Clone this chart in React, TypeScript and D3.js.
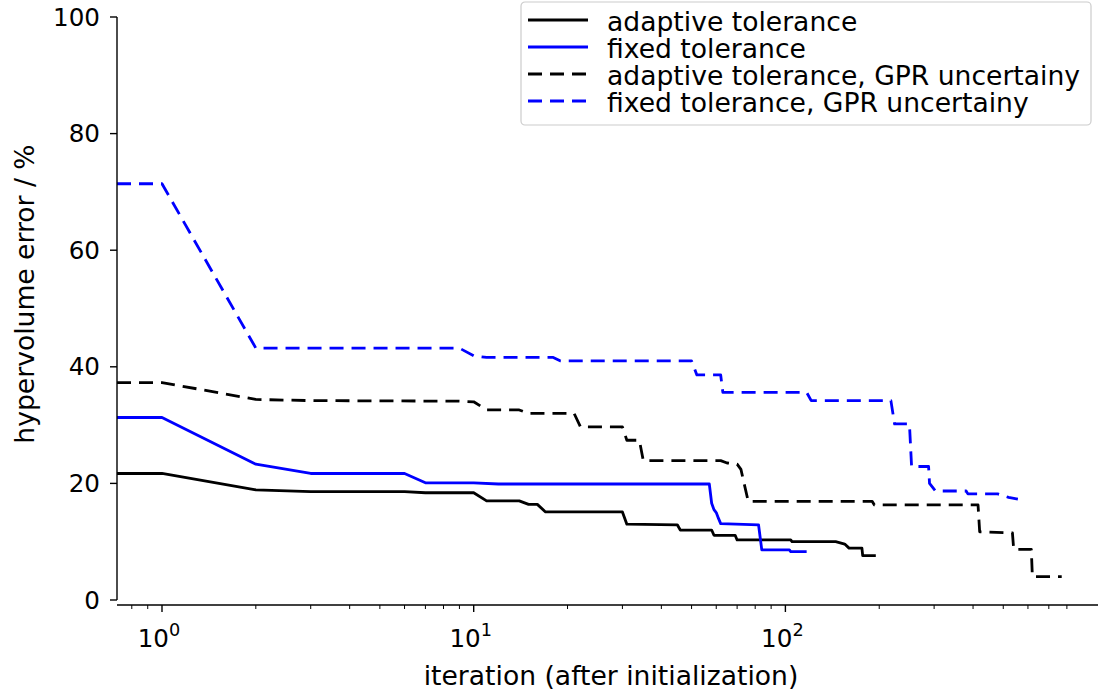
import React from 'react';
import * as d3 from 'd3';

const W = 1103;
const H = 695;

// adaptive tolerance (black solid)
const adaptiveIter = [0, 1, 2, 3, 6, 7, 10, 11, 14, 15, 16, 17, 30, 31, 45, 46, 58, 59, 69, 70, 104, 105, 145, 155, 160, 176, 177, 195];
const adaptiveVal = [21.7, 21.7, 18.9, 18.6, 18.6, 18.4, 18.4, 17.0, 17.0, 16.4, 16.4, 15.1, 15.1, 13.0, 12.9, 12.0, 12.0, 11.1, 11.1, 10.3, 10.3, 10.0, 10.0, 9.6, 8.9, 8.9, 7.6, 7.6];

// fixed tolerance (blue solid)
const fixedIter = [0, 1, 2, 3, 6, 7, 10, 12, 57, 58, 59, 60, 61, 62, 82, 84, 103, 104, 117];
const fixedVal = [31.3, 31.3, 23.3, 21.7, 21.7, 20.1, 20.1, 19.9, 19.9, 16.6, 15.5, 15.0, 14.0, 13.1, 12.9, 8.6, 8.6, 8.3, 8.3];

// adaptive tolerance, GPR uncertainy (black dashed)
const adaptiveGprIter = [0, 1, 2, 3, 9, 10, 11, 14, 15, 21, 22, 30, 31, 34, 35, 62, 65, 70, 72, 76, 190, 193, 415, 420, 535, 540, 615, 620, 770];
const adaptiveGprVal = [37.3, 37.3, 34.4, 34.2, 34.1, 34.0, 32.6, 32.6, 32.0, 32.0, 29.7, 29.7, 27.4, 27.4, 23.9, 23.9, 23.5, 23.3, 22.4, 16.9, 16.9, 16.3, 16.3, 11.7, 11.5, 8.7, 8.7, 4.0, 4.0];

// fixed tolerance, GPR uncertainy (blue dashed)
const fixedGprIter = [0, 1, 2, 9, 10, 11, 18, 19, 50, 52, 62, 63, 117, 121, 218, 224, 250, 254, 288, 290, 303, 380, 385, 480, 520, 557];
const fixedGprVal = [71.4, 71.4, 43.2, 43.2, 41.9, 41.6, 41.6, 41.0, 41.0, 38.6, 38.6, 35.6, 35.6, 34.2, 34.2, 30.2, 30.2, 22.9, 22.9, 20.0, 18.7, 18.7, 18.2, 18.2, 17.6, 17.3];

const seriesNames = [
  'adaptive tolerance',
  'fixed tolerance',
  'adaptive tolerance, GPR uncertainy',
  'fixed tolerance, GPR uncertainy',
];
const seriesColors = ['#000000', '#0000ff', '#000000', '#0000ff'];
const seriesDashed = [false, false, true, true];

const yTicks = [0, 20, 40, 60, 80, 100];
const xMajorTicks = [1, 10, 100];
const xMajorExp = ['0', '1', '2'];
const xMinorTicks = [0.8, 0.9, 2, 3, 4, 5, 6, 7, 8, 9, 20, 30, 40, 50, 60, 70, 80, 90, 200, 300, 400, 500, 600, 700, 800];

const FONT = 'DejaVu Sans, sans-serif';
const FS_TICK = 24.6;
const FS_LABEL = 26.6;

export default function App() {
  const left = 117;
  const right = 1098;
  const yTop = 17;
  const yBottom = 600;
  const xAxisY = 605;

  const x = d3.scaleLog().domain([0.7172, 1006.7]).range([left, right]);
  const y = d3.scaleLinear().domain([0, 100]).range([yBottom, yTop]);

  const allSeries = [
    [adaptiveIter, adaptiveVal],
    [fixedIter, fixedVal],
    [adaptiveGprIter, adaptiveGprVal],
    [fixedGprIter, fixedGprVal],
  ];

  const line = d3
    .line<[number, number]>()
    .x((d) => (d[0] <= 0 ? left : x(d[0])))
    .y((d) => y(d[1]));

  return (
    <svg width={W} height={H} style={{ position: 'absolute', left: 0, top: 0, background: '#fff' }} fontFamily={FONT}>
      <rect x={0} y={0} width={W} height={H} fill="#fff" />
      {allSeries.map(([it, vals], i) => {
        const pts = it.map((v, k) => [v, vals[k]] as [number, number]);
        return (
          <path
            key={i}
            d={line(pts) || ''}
            fill="none"
            stroke={seriesColors[i]}
            strokeWidth={2.8}
            strokeDasharray={seriesDashed[i] ? '14 8' : undefined}
            strokeLinejoin="round"
          />
        );
      })}
      {/* y axis */}
      <line x1={left} x2={left} y1={yTop} y2={yBottom} stroke="#000" strokeWidth={1.4} />
      {yTicks.map((t) => (
        <g key={t}>
          <line x1={left - 7} x2={left} y1={y(t)} y2={y(t)} stroke="#000" strokeWidth={1.4} />
          <text x={left - 17} y={y(t)} textAnchor="end" dominantBaseline="central" fontSize={FS_TICK}>
            {t}
          </text>
        </g>
      ))}
      {/* x axis */}
      <line x1={left} x2={right} y1={xAxisY} y2={xAxisY} stroke="#000" strokeWidth={1.4} />
      {xMajorTicks.map((t, i) => (
        <g key={t}>
          <line x1={x(t)} x2={x(t)} y1={xAxisY} y2={xAxisY + 7} stroke="#000" strokeWidth={1.4} />
          <text x={x(t) - 3} y={647} textAnchor="middle" fontSize={FS_TICK}>
            10
            <tspan fontSize={FS_TICK * 0.72} dy={-11}>
              {xMajorExp[i]}
            </tspan>
          </text>
        </g>
      ))}
      {xMinorTicks.map((t) => (
        <line key={t} x1={x(t)} x2={x(t)} y1={xAxisY} y2={xAxisY + 4} stroke="#000" strokeWidth={1} />
      ))}
      <text x={611} y={685} textAnchor="middle" fontSize={FS_LABEL}>
        iteration (after initialization)
      </text>
      <text transform={`translate(24,${294}) rotate(-90)`} textAnchor="middle" dominantBaseline="central" fontSize={FS_LABEL}>
        hypervolume error / %
      </text>
      {/* legend */}
      <rect x={521} y={2} width={570} height={123} rx={4} fill="#fff" fillOpacity={0.8} stroke="#cccccc" strokeWidth={1.2} />
      {seriesNames.map((n, i) => {
        const ly = 20 + 27 * i;
        return (
          <g key={n}>
            <line
              x1={528}
              x2={588}
              y1={ly}
              y2={ly}
              stroke={seriesColors[i]}
              strokeWidth={2.8}
              strokeDasharray={seriesDashed[i] ? '14 8' : undefined}
            />
            <text x={607} y={ly + 1} dominantBaseline="central" fontSize={FS_LABEL}>
              {n}
            </text>
          </g>
        );
      })}
    </svg>
  );
}
